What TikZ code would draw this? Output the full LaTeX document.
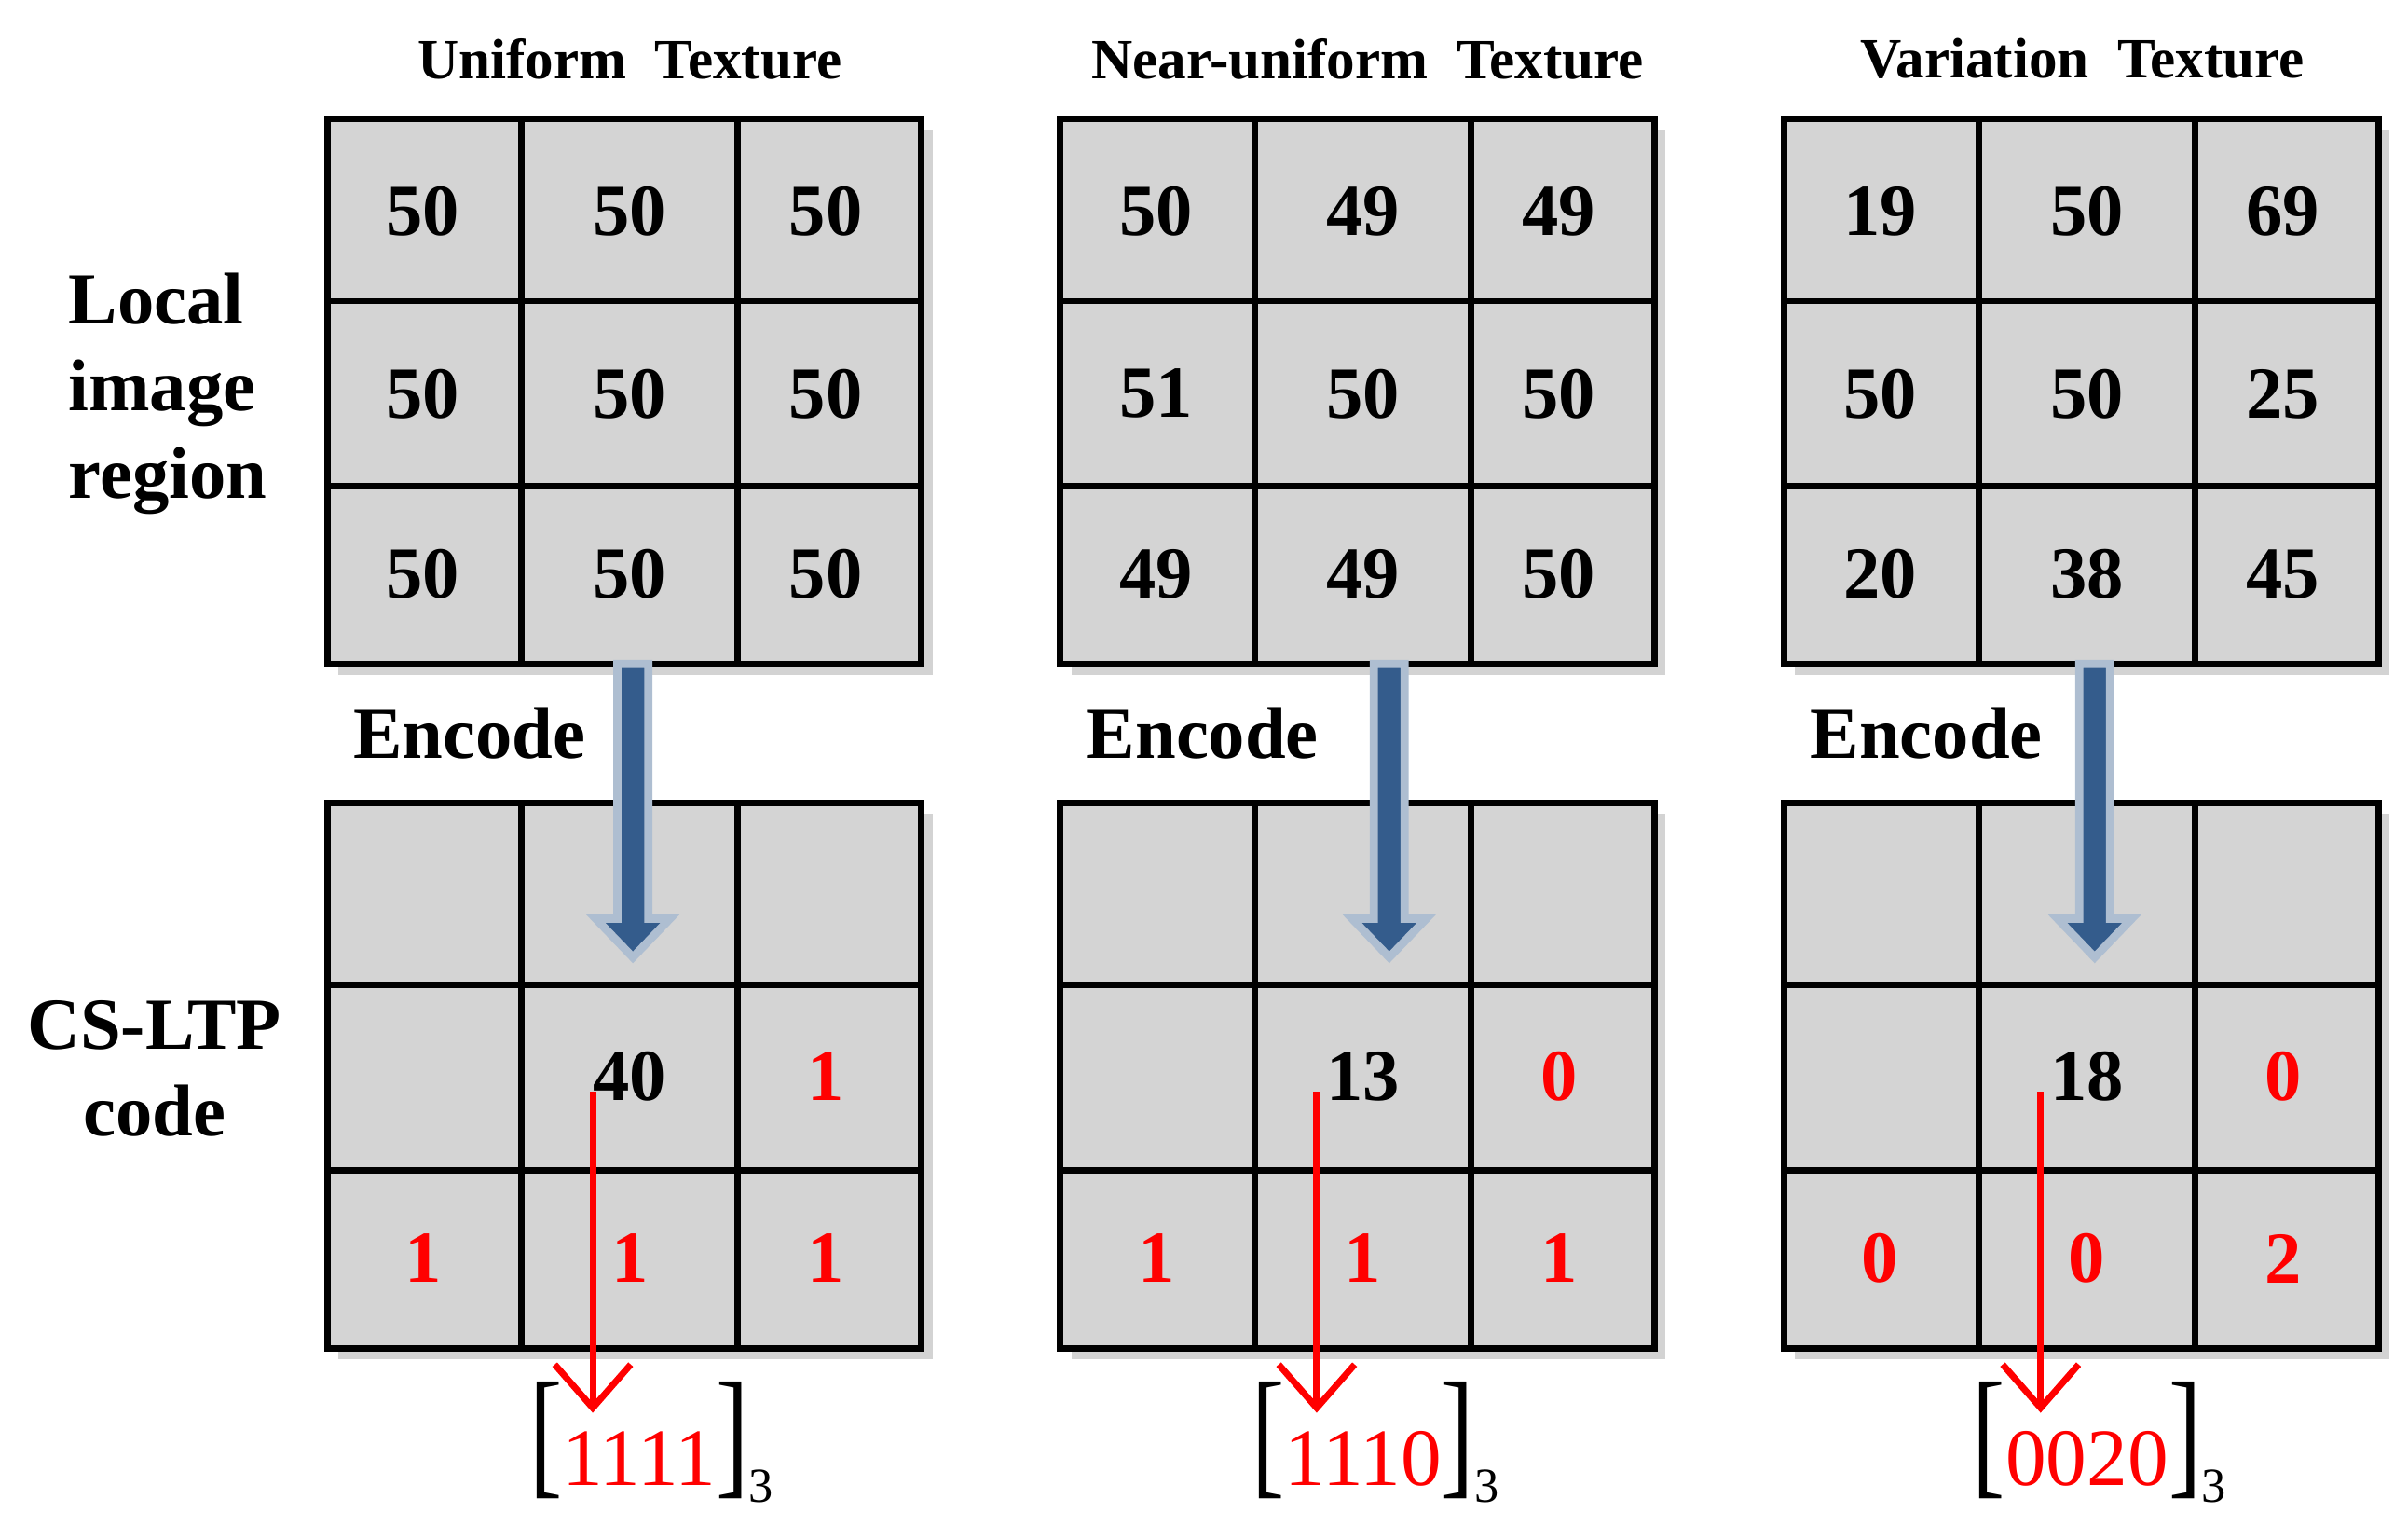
\documentclass[tikz,border=0pt]{standalone}
\usepackage{fontspec}
\setmainfont{Liberation Serif}
\usetikzlibrary{arrows.meta,shadows}
\definecolor{cellgray}{RGB}{212,212,212}
\definecolor{arrowblue}{RGB}{52,92,140}
\tikzset{
 num/.style={font=\fontsize{13.5}{13.5}\selectfont\bfseries},
 rnum/.style={num,text=red},
 title/.style={font=\fontsize{10.5}{10.5}\selectfont\bfseries},
 side/.style={font=\fontsize{13.5}{16}\selectfont\bfseries,align=left},
 code/.style={font=\fontsize{15}{15}\selectfont},
 gridbox/.style={fill=cellgray,draw=black,line width=1.2pt,drop shadow={shadow xshift=2pt,shadow yshift=-2pt,opacity=0.35}},
 bigarrow/.style={fill=arrowblue,draw=arrowblue!40,line width=1.5pt},
 redarrow/.style={draw=red,line width=1.2pt,-{Straight Barb[length=8pt,width=14pt]}}
}
% #1 x0, #2 top, #3 name
\newcommand{\mygrid}[3]{%
 \path[gridbox] (#1,#2) rectangle ++(385,353);
 \draw[line width=1.2pt] (#1+126,#2) -- ++(0,353) (#1+266,#2) -- ++(0,353)
   (#1,#2+118) -- ++(385,0) (#1,#2+238) -- ++(385,0);
 \coordinate (#3) at (#1,#2);
}
\begin{document}
\begin{tikzpicture}[x=0.01cm,y=-0.01cm]
\useasboundingbox (0,0) rectangle (1560,988);
\node[title] (t1) at (408,38) {Uniform\ \ Texture};
\node[title] (t2) at (886,38) {Near-uniform\ \ Texture};
\node[title] (t3) at (1349,38) {Variation\ \ Texture};
\node[side,anchor=west] (s1) at (32,255) {Local\\image\\region};
\node[side,align=center] (s2) at (100,692) {CS-LTP\\code};
\foreach \gx/\gn/\cx/\rx/\cv/\va/\vb/\vc/\vd/\ve/\vf/\vg/\vh/\vi/\rone/\rtwo/\rthree/\rfour/\cod in
 {212/a/410/384/40/50/50/50/50/50/50/50/50/50/1/1/1/1/1111,
  687/b/900/853/13/50/49/49/51/50/50/49/49/50/0/1/1/1/1110,
  1156/c/1357/1322/18/19/50/69/50/50/25/20/38/45/0/0/0/2/0020}{
 \mygrid{\gx}{77}{top\gn}
 \mygrid{\gx}{520}{bot\gn}
 \node[num] (\gn11) at (\gx+62,137) {\va};
 \node[num] (\gn12) at (\gx+196,137) {\vb};
 \node[num] (\gn13) at (\gx+323,137) {\vc};
 \node[num] (\gn21) at (\gx+62,255) {\vd};
 \node[num] (\gn22) at (\gx+196,255) {\ve};
 \node[num] (\gn23) at (\gx+323,255) {\vf};
 \node[num] (\gn31) at (\gx+62,372) {\vg};
 \node[num] (\gn32) at (\gx+196,372) {\vh};
 \node[num] (\gn33) at (\gx+323,372) {\vi};
 \node[side] (enc\gn) at (\gx+92,475) {Encode};
 \path[bigarrow] (\cx-10,430) -- (\cx+10,430) -- (\cx+10,595) -- (\cx+24,595)
   -- (\cx,620) -- (\cx-24,595) -- (\cx-10,595) -- cycle;
 \node[num] (cen\gn) at (\gx+196,697) {\cv};
 \node[rnum] (r\gn1) at (\gx+323,697) {\rone};
 \node[rnum] (r\gn2) at (\gx+62,815) {\rtwo};
 \node[rnum] (r\gn3) at (\gx+196,815) {\rthree};
 \node[rnum] (r\gn4) at (\gx+323,815) {\rfour};
 \coordinate (st\gn) at (\rx,707);
 \node[code,inner sep=0pt] (cd\gn) at (\rx+38,934) {\raisebox{1pt}{\fontsize{26}{26}\selectfont\addfontfeature{FakeStretch=0.7}[}\textcolor{red}{\cod}\raisebox{1pt}{\fontsize{26}{26}\selectfont\addfontfeature{FakeStretch=0.7}]}\fontsize{9}{9}\selectfont\raisebox{-3pt}{3}};
 \coordinate (en\gn) at (\rx,915);
 \draw[redarrow] (st\gn) -- (en\gn);
}
\end{tikzpicture}
\end{document}
